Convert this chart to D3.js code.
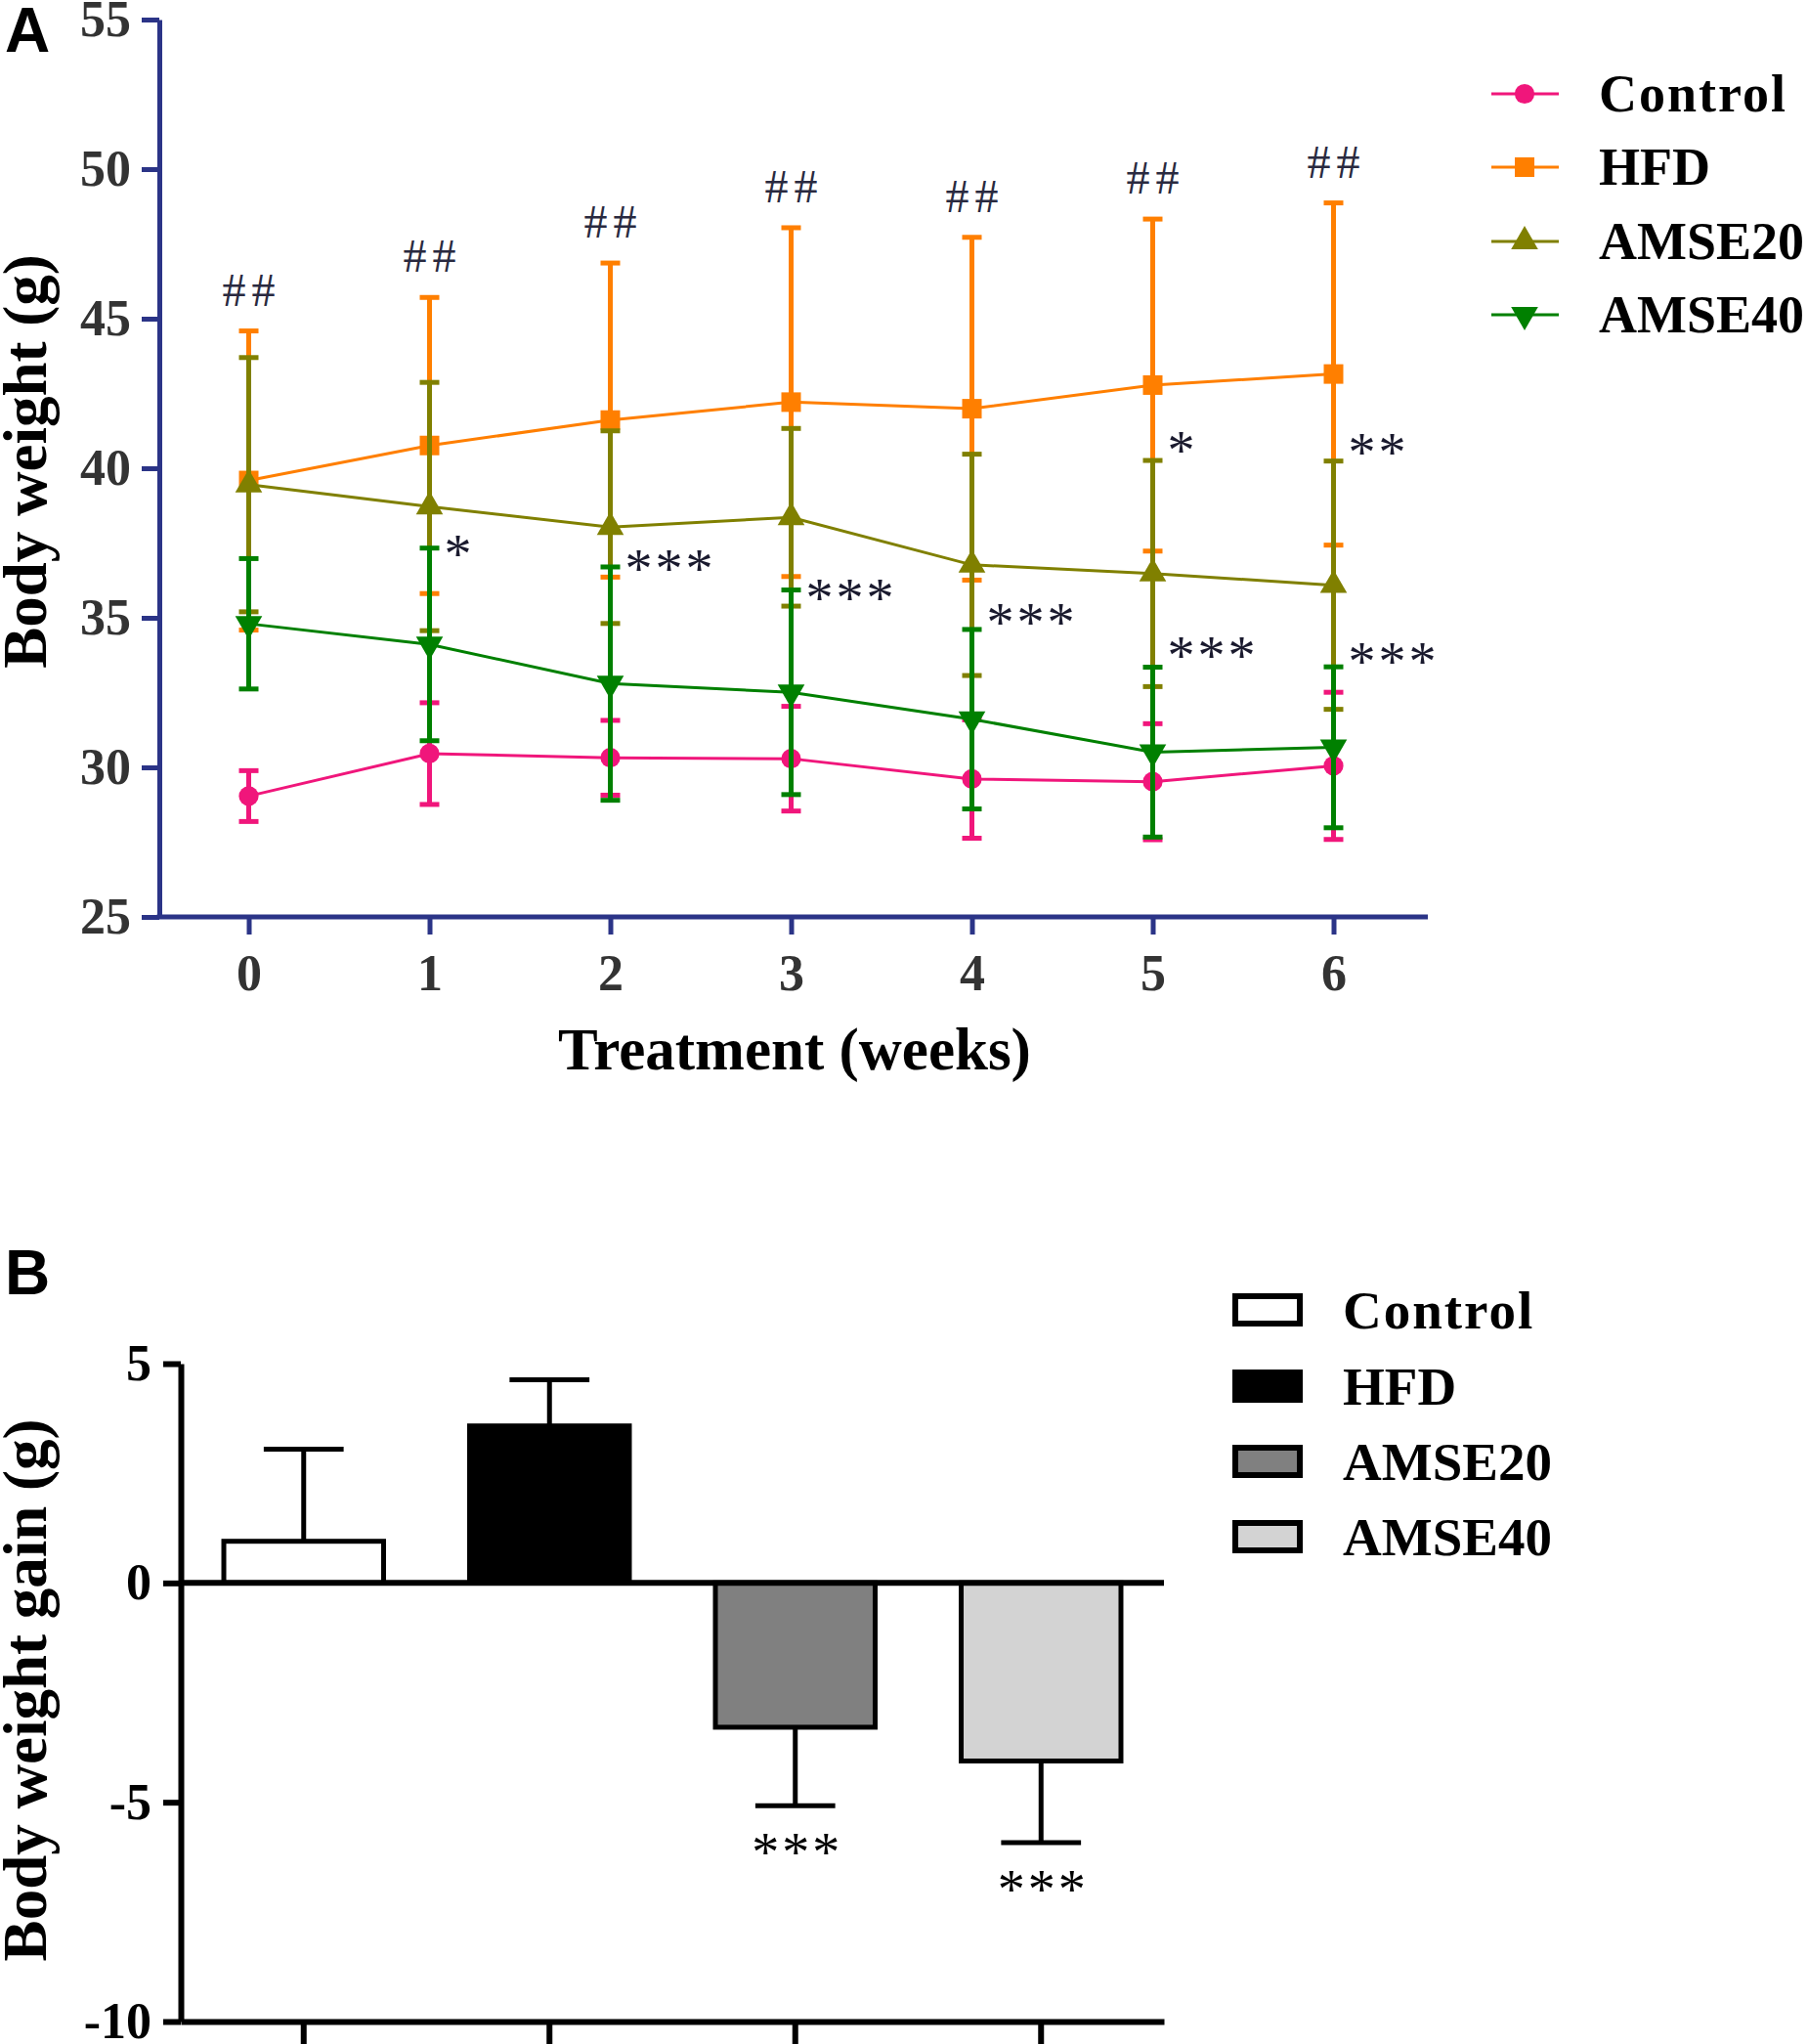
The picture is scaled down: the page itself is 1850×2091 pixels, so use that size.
<!DOCTYPE html>
<html>
<head>
<meta charset="utf-8">
<script src="https://cdn.jsdelivr.net/npm/d3@7"></script>
<style>
  body { margin: 0; background: #fff; }
</style>
</head>
<body>
<div id="chart"></div>
<script>
// ---------- panel A data: body weight (g), mean and SD per week ----------
var weeks = [0, 1, 2, 3, 4, 5, 6];
var groups = ["Control", "HFD", "AMSE20", "AMSE40"];
var controlMean = [29.04, 30.46, 30.32, 30.29, 29.61, 29.52, 30.05];
var controlSd   = [0.85, 1.70, 1.25, 1.75, 1.98, 1.94, 2.46];
var hfdMean     = [39.59, 40.76, 41.61, 42.21, 41.99, 42.78, 43.15];
var hfdSd       = [5.00, 4.95, 5.25, 5.83, 5.73, 5.55, 5.72];
var amse20Mean  = [39.45, 38.72, 38.03, 38.36, 36.77, 36.48, 36.09];
var amse20Sd    = [4.25, 4.15, 3.22, 2.97, 3.70, 3.78, 4.15];
var amse40Mean  = [34.80, 34.11, 32.80, 32.51, 31.61, 30.51, 30.67];
var amse40Sd    = [2.18, 3.22, 3.90, 3.42, 3.00, 2.84, 2.69];
var yTicksA = [25, 30, 35, 40, 45, 50, 55];

// "##" = HFD vs control, stars = treated vs HFD (value = where the mark sits)
var hashMarks = ["##", "##", "##", "##", "##", "##", "##"];
var starWeeks = [1, 2, 3, 4, 5, 6, 5, 6];
var starText  = ["*", "***", "***", "***", "***", "***", "*", "**"];
var starValue = [37.4, 36.9, 35.9, 35.1, 34.0, 33.8, 40.85, 40.8];

// ---------- panel B data: body weight gain (g) ----------
var gainGroups = ["Control", "HFD", "AMSE20", "AMSE40"];
var gainMean = [0.95, 3.58, -3.29, -4.06];
var gainSd   = [2.10, 1.05, 1.79, 1.86];
var gainStars = ["", "", "***", "***"];
var yTicksB = [-10, -5, 0, 5];

// styles
var lineColors = ["#f0167b", "#ff7f00", "#808000", "#008000"];
var barFills = ["#ffffff", "#000000", "#808080", "#d3d3d3"];
var axisBlue = "#2b3487";
var serif = "'Liberation Serif', 'Times New Roman', serif";
var sans = "'Liberation Sans', Arial, sans-serif";

var width = 1850, height = 2091;

var svg = d3.select("#chart")
    .append("svg")
    .attr("width", width)
    .attr("height", height)
    .style("display", "block");

// ================= PANEL A =================
var series = [
    { name: groups[0], mean: controlMean, sd: controlSd, shape: d3.symbolCircle },
    { name: groups[1], mean: hfdMean, sd: hfdSd, shape: d3.symbolSquare },
    { name: groups[2], mean: amse20Mean, sd: amse20Sd, shape: d3.symbolTriangle },
    { name: groups[3], mean: amse40Mean, sd: amse40Sd, shape: "down" }
];

var xA = d3.scaleLinear().domain([0, 6]).range([254.5, 1364.5]);
var yA = d3.scaleLinear().domain([25, 55]).range([938, 20]);
var axisLeftX = 163, plotRightA = 1461;

var gA = svg.append("g");

// y axis
var yAxisA = gA.append("g")
    .attr("transform", "translate(" + axisLeftX + ",0)")
    .call(d3.axisLeft(yA).tickValues(yTicksA).tickSize(18).tickSizeOuter(0).tickPadding(11)
        .tickFormat(d3.format("d")));
yAxisA.selectAll("path, line").attr("stroke", axisBlue).attr("stroke-width", 5);
yAxisA.selectAll("text")
    .style("font-family", serif).style("font-weight", "bold")
    .style("font-size", "52px").attr("fill", "#333");

// x axis (ticks only, baseline drawn separately so it runs from the y axis)
var xAxisA = gA.append("g")
    .attr("transform", "translate(0," + yA(25) + ")")
    .call(d3.axisBottom(xA).tickValues(weeks).tickSize(18).tickSizeOuter(0).tickPadding(20)
        .tickFormat(d3.format("d")));
xAxisA.select(".domain").remove();
xAxisA.selectAll("line").attr("stroke", axisBlue).attr("stroke-width", 5);
xAxisA.selectAll("text")
    .style("font-family", serif).style("font-weight", "bold")
    .style("font-size", "52px").attr("fill", "#333");
gA.append("line")
    .attr("x1", axisLeftX - 2.5).attr("x2", plotRightA)
    .attr("y1", yA(25)).attr("y2", yA(25))
    .attr("stroke", axisBlue).attr("stroke-width", 5);

// axis titles
gA.append("text")
    .attr("transform", "translate(47," + 472 + ") rotate(-90)")
    .attr("text-anchor", "middle")
    .style("font-family", serif).style("font-weight", "bold").style("font-size", "63px")
    .text("Body weight (g)");
gA.append("text")
    .attr("x", 813).attr("y", 1094)
    .attr("text-anchor", "middle")
    .style("font-family", serif).style("font-weight", "bold").style("font-size", "61px")
    .text("Treatment (weeks)");

function markerPath(shape) {
    if (shape === "down") return d3.symbol().type(d3.symbolTriangle).size(330)();
    if (shape === d3.symbolCircle) return d3.symbol().type(shape).size(320)();
    if (shape === d3.symbolSquare) return d3.symbol().type(shape).size(400)();
    return d3.symbol().type(shape).size(330)();
}

var line = d3.line()
    .x(function(d, i) { return xA(weeks[i]); })
    .y(function(d) { return yA(d); });

// each series: error bars, line, markers (later series sit on top)
series.forEach(function(s, k) {
    var col = lineColors[k];
    var g = gA.append("g");
    var bars = g.selectAll(".eb").data(s.mean).enter().append("g");
    bars.append("line")
        .attr("x1", function(d, i) { return xA(weeks[i]); })
        .attr("x2", function(d, i) { return xA(weeks[i]); })
        .attr("y1", function(d, i) { return yA(d + s.sd[i]); })
        .attr("y2", function(d, i) { return yA(d - s.sd[i]); })
        .attr("stroke", col).attr("stroke-width", 5);
    [1, -1].forEach(function(sign) {
        bars.append("line")
            .attr("x1", function(d, i) { return xA(weeks[i]) - 10; })
            .attr("x2", function(d, i) { return xA(weeks[i]) + 10; })
            .attr("y1", function(d, i) { return yA(d + sign * s.sd[i]); })
            .attr("y2", function(d, i) { return yA(d + sign * s.sd[i]); })
            .attr("stroke", col).attr("stroke-width", 5);
    });
    g.append("path")
        .datum(s.mean)
        .attr("d", line)
        .attr("fill", "none").attr("stroke", col).attr("stroke-width", 3);
    g.selectAll(".mk").data(s.mean).enter().append("path")
        .attr("d", markerPath(s.shape))
        .attr("transform", function(d, i) {
            var t = "translate(" + xA(weeks[i]) + "," + yA(d) + ")";
            return s.shape === "down" ? t + " rotate(180)" : t;
        })
        .attr("fill", col);
});

// "##" above the HFD error bars
gA.selectAll(".hash").data(hashMarks).enter().append("text")
    .attr("x", function(d, i) { return xA(weeks[i]) + 3; })
    .attr("y", function(d, i) { return yA(hfdMean[i] + hfdSd[i]) - 42 + 16; })
    .attr("text-anchor", "middle")
    .style("font-family", serif).style("font-size", "48px")
    .style("letter-spacing", "6px")
    .attr("fill", "#2a2a40")
    .text(function(d) { return d; });

// stars
gA.selectAll(".star").data(starText).enter().append("text")
    .attr("x", function(d, i) { return xA(starWeeks[i]) + 15; })
    .attr("y", function(d, i) { return yA(starValue[i]) + 27; })
    .style("font-family", serif).style("font-size", "56px")
    .style("letter-spacing", "3px")
    .attr("fill", "#1a1a2e")
    .text(function(d) { return d; });

// legend A
var legA = gA.append("g");
var legRowsA = [96, 171, 247, 322];
series.forEach(function(s, k) {
    var yy = legRowsA[k];
    legA.append("line")
        .attr("x1", 1526).attr("x2", 1595).attr("y1", yy).attr("y2", yy)
        .attr("stroke", lineColors[k]).attr("stroke-width", 3);
    legA.append("path")
        .attr("d", markerPath(s.shape))
        .attr("transform", "translate(1560," + yy + ")" + (s.shape === "down" ? " rotate(180)" : ""))
        .attr("fill", lineColors[k]);
    legA.append("text")
        .attr("x", 1636).attr("y", yy + 18)
        .style("font-family", serif).style("font-weight", "bold").style("font-size", "54px")
        .style("letter-spacing", k === 0 ? "2px" : "0px")
        .text(s.name);
});

// panel letter
svg.append("text").attr("x", 5).attr("y", 53)
    .style("font-family", sans).style("font-weight", "bold").style("font-size", "64px")
    .text("A");

// ================= PANEL B =================
var xB = d3.scaleBand().domain(gainGroups).range([185, 1191])
    .paddingInner(0.35).paddingOuter(0.175);
var yB = d3.scaleLinear().domain([-10, 5]).range([2068, 1395]);

var gB = svg.append("g");

var yAxisB = gB.append("g")
    .attr("transform", "translate(185,0)")
    .call(d3.axisLeft(yB).tickValues(yTicksB).tickSize(18).tickSizeOuter(0).tickPadding(12)
        .tickFormat(function(d) { return String(d); }));
yAxisB.selectAll("path, line").attr("stroke", "#000").attr("stroke-width", 6);
yAxisB.selectAll("text")
    .style("font-family", serif).style("font-weight", "bold")
    .style("font-size", "52px").attr("fill", "#000");

var xAxisB = gB.append("g")
    .attr("transform", "translate(0," + yB(-10) + ")")
    .call(d3.axisBottom(xB).tickSize(26).tickSizeOuter(0).tickFormat(""));
xAxisB.selectAll("path, line").attr("stroke", "#000").attr("stroke-width", 6);

gB.append("text")
    .attr("transform", "translate(47,1729) rotate(-90)")
    .attr("text-anchor", "middle")
    .style("font-family", serif).style("font-weight", "bold").style("font-size", "63px")
    .text("Body weight gain (g)");

// error bars (drawn away from zero)
gB.selectAll(".beb").data(gainMean).enter().append("line")
    .attr("x1", function(d, i) { return xB(gainGroups[i]) + xB.bandwidth() / 2; })
    .attr("x2", function(d, i) { return xB(gainGroups[i]) + xB.bandwidth() / 2; })
    .attr("y1", function(d) { return yB(d); })
    .attr("y2", function(d, i) { return yB(d + (d >= 0 ? 1 : -1) * gainSd[i]); })
    .attr("stroke", "#000").attr("stroke-width", 5);
gB.selectAll(".bcap").data(gainMean).enter().append("line")
    .attr("x1", function(d, i) { return xB(gainGroups[i]) + xB.bandwidth() / 4; })
    .attr("x2", function(d, i) { return xB(gainGroups[i]) + xB.bandwidth() * 3 / 4; })
    .attr("y1", function(d, i) { return yB(d + (d >= 0 ? 1 : -1) * gainSd[i]); })
    .attr("y2", function(d, i) { return yB(d + (d >= 0 ? 1 : -1) * gainSd[i]); })
    .attr("stroke", "#000").attr("stroke-width", 5);

// bars
gB.selectAll(".bar").data(gainMean).enter().append("rect")
    .attr("x", function(d, i) { return xB(gainGroups[i]); })
    .attr("width", xB.bandwidth())
    .attr("y", function(d) { return Math.min(yB(d), yB(0)); })
    .attr("height", function(d) { return Math.abs(yB(d) - yB(0)); })
    .attr("fill", function(d, i) { return barFills[i]; })
    .attr("stroke", "#000").attr("stroke-width", 5);

// zero line
gB.append("line")
    .attr("x1", 185).attr("x2", 1191)
    .attr("y1", yB(0)).attr("y2", yB(0))
    .attr("stroke", "#000").attr("stroke-width", 6);

// stars under negative bars
gB.selectAll(".bstar").data(gainStars).enter().append("text")
    .attr("x", function(d, i) { return xB(gainGroups[i]) + xB.bandwidth() / 2 + 2; })
    .attr("y", function(d, i) { return yB(gainMean[i] - gainSd[i]) + 40 + 27; })
    .attr("text-anchor", "middle")
    .style("font-family", serif).style("font-size", "56px")
    .style("letter-spacing", "3px")
    .attr("fill", "#000")
    .text(function(d) { return d; });

// legend B
var legRowsB = [1340, 1418, 1495, 1572];
gainGroups.forEach(function(name, k) {
    var yy = legRowsB[k];
    gB.append("rect")
        .attr("x", 1264).attr("y", yy - 14)
        .attr("width", 66).attr("height", 28)
        .attr("fill", barFills[k]).attr("stroke", "#000").attr("stroke-width", 6);
    gB.append("text")
        .attr("x", 1374).attr("y", yy + 19)
        .style("font-family", serif).style("font-weight", "bold").style("font-size", "55px")
        .style("letter-spacing", k === 0 ? "2px" : "0px")
        .text(name);
});

svg.append("text").attr("x", 5).attr("y", 1324)
    .style("font-family", sans).style("font-weight", "bold").style("font-size", "64px")
    .text("B");
</script>
</body>
</html>
